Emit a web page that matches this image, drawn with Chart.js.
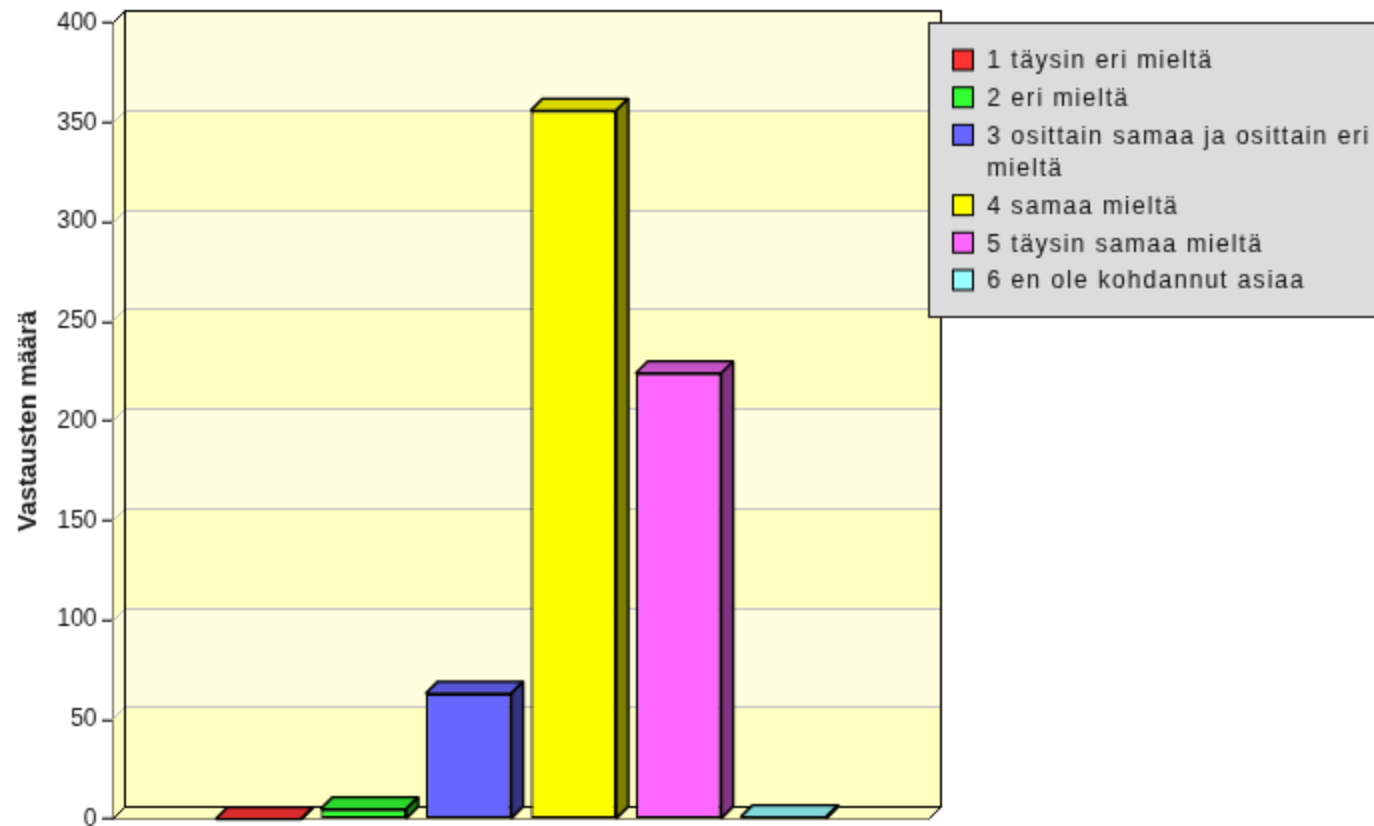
<!DOCTYPE html>
<html>
<head>
<meta charset="utf-8">
<title>Vastausten määrä</title>
<script src="https://cdn.jsdelivr.net/npm/chart.js@4"></script>
<style>
    html, body { margin: 0; padding: 0; background: #fff; overflow: hidden; }
    canvas { display: block; }
</style>
</head>
<body>
<canvas id="kuvaaja" width="1374" height="826"></canvas>
<script>
// Data
const categories = ['Vastaukset'];
const legendLabels = ['1 täysin eri mieltä', '2 eri mieltä', '3 osittain samaa ja osittain eri mieltä', '4 samaa mieltä', '5 täysin samaa mieltä', '6 en ole kohdannut asiaa'];
const answerCounts = [0, 5, 63, 356, 224, 1];
const yTitle = 'Vastausten määrä';

// Colors for each bar: front, top, side
const frontColors = ['#ff3333', '#33ff33', '#6666ff', '#ffff00', '#ff66ff', '#99ffff'];
const topColors = ['#d92b2b', '#2bd92b', '#5757d9', '#d9d900', '#c855c8', '#80d8d8'];
const sideColors = ['#801a1a', '#1a801a', '#333380', '#808000', '#803380', '#4d8080'];

const wallDx = 12, wallDy = 12, barDepth = 12;
const fontFamily = '"Liberation Sans", Arial, sans-serif';

// canvas runs at half resolution, keep the grid lines on whole pixels
const snap = v => Math.round((v - 1) / 2) * 2 + 1;

// Back wall, side wall and floor, bands follow the y scale
const wallPlugin = {
    id: 'wall',
    beforeDatasetsDraw(chart) {
        const { ctx, chartArea: a, scales: { y } } = chart;
        const ticks = y.ticks.map(t => snap(y.getPixelForValue(t.value)));
        ctx.save();
        for (let i = 0; i < ticks.length - 1; i++) {
            const y0 = ticks[i], y1 = ticks[i + 1];
            ctx.fillStyle = i % 2 === 0 ? '#ffffc0' : '#ffffdd';
            ctx.fillRect(a.left + wallDx, y1 - wallDy, a.width, y0 - y1);
            ctx.beginPath();
            ctx.moveTo(a.left, y0);
            ctx.lineTo(a.left + wallDx, y0 - wallDy);
            ctx.lineTo(a.left + wallDx, y1 - wallDy);
            ctx.lineTo(a.left, y1);
            ctx.closePath();
            ctx.fill();
        }
        // floor
        ctx.fillStyle = '#ffffc0';
        ctx.beginPath();
        ctx.moveTo(a.left, a.bottom);
        ctx.lineTo(a.left + wallDx, a.bottom - wallDy);
        ctx.lineTo(a.right + wallDx, a.bottom - wallDy);
        ctx.lineTo(a.right, a.bottom);
        ctx.closePath();
        ctx.fill();
        // grid lines
        ctx.lineWidth = 2;
        ctx.strokeStyle = '#c4c4c4';
        ticks.slice(1, -1).forEach(p => {
            ctx.beginPath();
            ctx.moveTo(a.left, p);
            ctx.lineTo(a.left + wallDx, p - wallDy);
            ctx.lineTo(a.right + wallDx, p - wallDy);
            ctx.stroke();
        });
        // frame
        ctx.strokeStyle = '#000';
        ctx.strokeRect(a.left + wallDx, a.top - wallDy, a.width, a.height);
        ctx.beginPath();
        ctx.moveTo(a.left, a.top);
        ctx.lineTo(a.left + wallDx, a.top - wallDy);
        ctx.moveTo(a.left, a.bottom);
        ctx.lineTo(a.left + wallDx, a.bottom - wallDy);
        ctx.moveTo(a.right, a.bottom);
        ctx.lineTo(a.right + wallDx, a.bottom - wallDy);
        ctx.stroke();
        ctx.restore();
    },
    // top and side face of the bar, the front is the library's own bar
    beforeDatasetDraw(chart, args) {
        const { ctx } = chart;
        const bar = chart.getDatasetMeta(args.index).data[0];
        const { x, y, base, width } = bar.getProps(['x', 'y', 'base', 'width'], true);
        const l = x - width / 2, r = x + width / 2;
        ctx.save();
        ctx.lineWidth = 2.5;
        ctx.lineJoin = 'bevel';
        ctx.strokeStyle = '#000';
        ctx.fillStyle = topColors[args.index];
        ctx.beginPath();
        ctx.moveTo(l, y);
        ctx.lineTo(l + barDepth, y - barDepth);
        ctx.lineTo(r + barDepth, y - barDepth);
        ctx.lineTo(r, y);
        ctx.closePath();
        ctx.fill();
        ctx.stroke();
        ctx.fillStyle = sideColors[args.index];
        ctx.beginPath();
        ctx.moveTo(r, y);
        ctx.lineTo(r + barDepth, y - barDepth);
        ctx.lineTo(r + barDepth, base - barDepth);
        ctx.lineTo(r, base);
        ctx.closePath();
        ctx.fill();
        ctx.stroke();
        ctx.restore();
    }
};

// Legend box, built from the dataset labels
const legendPlugin = {
    id: 'legendBox',
    afterDraw(chart) {
        const { ctx } = chart;
        const boxX = 929, boxY = 23, boxH = 294, maxW = 395;
        ctx.save();
        ctx.fillStyle = '#dcdcdc';
        ctx.strokeStyle = '#222';
        ctx.lineWidth = 2;
        ctx.fillRect(boxX, boxY, chart.width, boxH);
        ctx.strokeRect(boxX, boxY, chart.width, boxH);
        ctx.font = '24px ' + fontFamily;
        ctx.letterSpacing = '2.1px';
        ctx.textBaseline = 'middle';
        let rowY = 60;
        chart.data.datasets.forEach(ds => {
            ctx.fillStyle = ds.backgroundColor;
            ctx.strokeStyle = '#000';
            ctx.fillRect(953, rowY - 10, 20, 20);
            ctx.strokeRect(953, rowY - 10, 20, 20);
            ctx.fillStyle = '#111';
            let line = '';
            ds.label.split(' ').forEach(word => {
                const test = line ? line + ' ' + word : word;
                if (ctx.measureText(test).width > maxW) {
                    ctx.fillText(line, 987, rowY + 2);
                    rowY += 33;
                    line = word;
                } else {
                    line = test;
                }
            });
            ctx.fillText(line, 987, rowY + 2);
            rowY += 37.4;
        });
        ctx.restore();
    }
};

new Chart(document.getElementById('kuvaaja'), {
    type: 'bar',
    data: {
        labels: categories,
        datasets: legendLabels.map((label, i) => ({
            label,
            data: [answerCounts[i]],
            backgroundColor: frontColors[i],
            borderColor: '#000',
            borderWidth: 2.5,
            borderSkipped: false,
            categoryPercentage: 0.772,
            barPercentage: 0.815
        }))
    },
    plugins: [wallPlugin, legendPlugin],
    options: {
        responsive: false,
        animation: false,
        devicePixelRatio: 0.5, // the reference is a small image scaled up
        layout: { autoPadding: false, padding: { top: 23, right: 445, bottom: 7, left: 0 } },
        plugins: { legend: { display: false }, tooltip: { enabled: false } },
        scales: {
            x: {
                ticks: { display: false },
                grid: { display: false },
                border: { color: '#000', width: 2 },
                afterFit(scale) { scale.height = 0; }
            },
            y: {
                min: 0,
                max: 400,
                ticks: {
                    stepSize: 50,
                    padding: 5,
                    color: '#111',
                    font: { family: fontFamily, size: 24 }
                },
                grid: { drawOnChartArea: false, tickLength: 11, tickColor: '#000', tickWidth: 2 },
                border: { color: '#000', width: 2 },
                title: {
                    display: true,
                    text: yTitle,
                    color: '#111',
                    padding: { top: 14, bottom: 0 },
                    font: { family: fontFamily, size: 26, weight: 'bold' }
                },
                afterFit(scale) {
                    scale.width = 113;
                    scale.paddingTop = 0;
                    scale.paddingBottom = 0;
                }
            }
        }
    }
});
</script>
</body>
</html>
